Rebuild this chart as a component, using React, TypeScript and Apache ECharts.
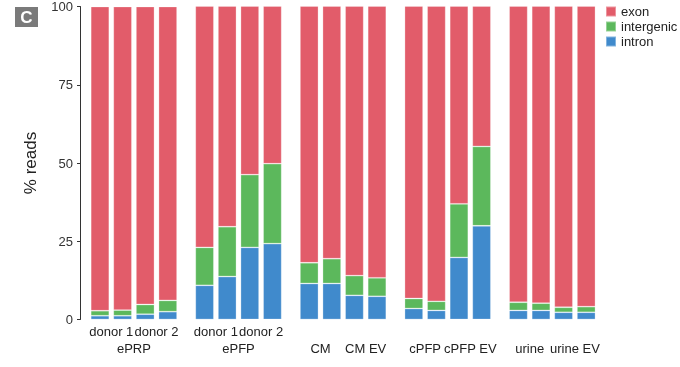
import React, { useEffect, useRef } from "react";
import * as echarts from "echarts";

const groupNames = ["ePRP", "ePFP", "", "", ""];
const pairLabels = [
  ["donor 1", "donor 2"],
  ["donor 1", "donor 2"],
  ["CM", "CM EV"],
  ["cPFP", "cPFP EV"],
  ["urine", "urine EV"],
];
const barIds = ["a", "b", "c", "d"];
const yTicks = [0, 25, 50, 75, 100];

const intron = [1.2, 1.2, 1.7, 2.5, 10.9, 13.7, 23.0, 24.2, 11.5, 11.5, 7.7, 7.4, 3.5, 2.9, 19.8, 29.9, 2.9, 2.9, 2.3, 2.3];
const intergenic = [1.6, 1.8, 3.1, 3.6, 12.1, 15.9, 23.2, 25.5, 6.6, 7.9, 6.3, 5.9, 3.2, 2.9, 17.1, 25.3, 2.6, 2.3, 1.6, 1.8];
const exon = [97.2, 97.0, 95.2, 93.9, 77.0, 70.4, 53.8, 50.3, 81.9, 80.6, 86.0, 86.7, 93.3, 94.2, 63.1, 44.8, 94.5, 94.8, 96.1, 95.9];

const COLORS = { exon: "#E25C6A", intergenic: "#5CB85C", intron: "#408ACC" };
const FONT = "Liberation Sans, Arial, Helvetica, sans-serif";

export default function App() {
  const ref = useRef<HTMLDivElement>(null);
  useEffect(() => {
    if (!ref.current) return;
    const chart = echarts.init(ref.current, null, { renderer: "svg" });
    const left0 = 88.7;
    const step = 104.6;
    const width = 90.4;
    const top = 6;
    const height = 313.5;
    const grids: any[] = [];
    const xAxes: any[] = [];
    const yAxes: any[] = [];
    const series: any[] = [];
    groupNames.forEach((g, i) => {
      grids.push({ left: left0 + i * step, top, width, height, containLabel: false });
      const secondLine = !g;
      xAxes.push({
        type: "category",
        gridIndex: i,
        data: barIds.map((b) => `${pairLabels[i][0]} ${b}`),
        axisLine: { show: false },
        axisTick: { show: false },
        axisLabel: { show: false },
      });
      xAxes.push({
        type: "category",
        gridIndex: i,
        position: "bottom",
        data: pairLabels[i],
        axisLine: { show: false },
        axisTick: { show: false },
        axisLabel: {
          show: true,
          fontSize: 13,
          color: "#222",
          fontFamily: FONT,
          margin: secondLine ? 22 : 5,
          interval: 0,
        },
        name: g,
        nameLocation: "middle",
        nameGap: 22,
        nameTextStyle: { fontSize: 13, color: "#222", fontFamily: FONT },
      });
      yAxes.push({
        type: "value",
        gridIndex: i,
        min: 0,
        max: 100,
        interval: 25,
        show: i === 0,
        offset: i === 0 ? 8.7 : 0,
        splitLine: { show: false },
        axisLine: { show: i === 0, lineStyle: { color: "#333", width: 1 } },
        axisTick: { show: i === 0, length: 3, lineStyle: { color: "#333" } },
        axisLabel: {
          show: i === 0,
          fontSize: 13,
          color: "#333",
          fontFamily: FONT,
          margin: 7,
          customValues: yTicks,
        },
        name: i === 0 ? "% reads" : "",
        nameLocation: "middle",
        nameGap: 41,
        nameRotate: 90,
        nameTextStyle: { fontSize: 17, color: "#222", fontFamily: FONT },
      });
      const sl = (arr: number[]) => arr.slice(i * 4, i * 4 + 4);
      const mk = (name: string, arr: number[], color: string) => ({
        name,
        type: "bar",
        xAxisIndex: i * 2,
        yAxisIndex: i,
        stack: `g${i}`,
        barWidth: "82%",
        data: sl(arr),
        itemStyle: { color, borderColor: "rgba(255,255,255,0.35)", borderWidth: 0.8 },
      });
      series.push(mk("intron", intron, COLORS.intron));
      series.push(mk("intergenic", intergenic, COLORS.intergenic));
      series.push(mk("exon", exon, COLORS.exon));
    });
    chart.setOption({
      animation: false,
      grid: grids,
      xAxis: xAxes,
      yAxis: yAxes,
      series,
      legend: {
        orient: "vertical",
        left: 605,
        top: 5,
        padding: 0,
        icon: "rect",
        itemWidth: 10,
        itemHeight: 10,
        itemGap: 2,
        data: ["exon", "intergenic", "intron"],
        textStyle: { fontSize: 13, color: "#222", fontFamily: FONT, lineHeight: 13 },
      },
      graphic: [
        {
          type: "group",
          left: 15,
          top: 7,
          children: [
            { type: "rect", shape: { x: 0, y: 0, width: 23, height: 20 }, style: { fill: "#7a7a7a" } },
            {
              type: "text",
              x: 11.5,
              y: 10.5,
              style: {
                text: "C",
                fill: "#fff",
                font: `bold 17px ${FONT}`,
                align: "center",
                verticalAlign: "middle",
              },
            },
          ],
        },
      ],
    });
    return () => chart.dispose();
  }, []);
  return <div ref={ref} style={{ position: "fixed", left: 0, top: 0, width: 680, height: 367 }} />;
}
